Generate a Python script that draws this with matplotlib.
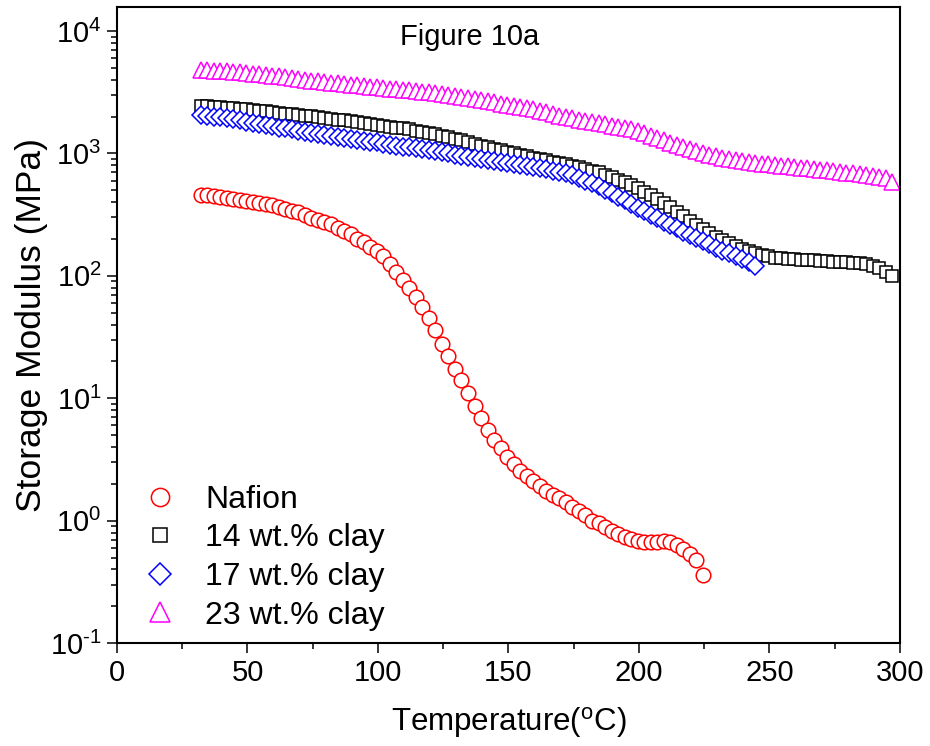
import matplotlib
matplotlib.use("Agg")
import matplotlib.pyplot as plt
from matplotlib.ticker import LogLocator, NullFormatter, MultipleLocator, FuncFormatter
import numpy as np

plt.rcParams['font.family'] = ['Liberation Sans', 'DejaVu Sans']
plt.rcParams['mathtext.fontset'] = 'custom'
plt.rcParams['mathtext.rm'] = 'Liberation Sans'
plt.rcParams['mathtext.it'] = 'Liberation Sans:italic'
plt.rcParams['mathtext.default'] = 'regular'
plt.rcParams['axes.unicode_minus'] = False

# temperature grid of the DMA scans (start, step in degC)
t_start = 32.0
t_step = 2.5

# storage modulus (MPa), every 2.5 degC
nafion = [460, 455, 449, 442, 435, 428, 418, 409, 403, 397,
          390, 378, 367, 355, 342, 330, 313, 299, 287, 275,
          263, 248, 234, 218, 201, 188, 173, 160, 145, 126,
          108, 92, 80, 67, 56, 45, 36, 28, 22, 17.5,
          14, 11, 8.6, 6.9, 5.5, 4.6, 3.9, 3.3, 2.9, 2.55,
          2.3, 2.1, 1.93, 1.75, 1.62, 1.53, 1.42, 1.30, 1.19, 1.12,
          1.0, 0.95, 0.89, 0.83, 0.785, 0.73, 0.71, 0.68, 0.67, 0.67,
          0.67, 0.68, 0.665, 0.635, 0.585, 0.535, 0.48, 0.36]

clay14 = [2440, 2420, 2400, 2380, 2360, 2340, 2310, 2290, 2260, 2240,
          2210, 2180, 2150, 2120, 2090, 2060, 2040, 2010, 1980, 1950,
          1920, 1890, 1860, 1840, 1810, 1780, 1750, 1720, 1690, 1660,
          1630, 1600, 1570, 1540, 1510, 1480, 1450, 1400, 1360, 1320,
          1280, 1240, 1200, 1160, 1120, 1090, 1060, 1030, 1000, 975,
          950, 925, 900, 878, 856, 835, 815, 795, 775, 750,
          725, 700, 670, 640, 610, 580, 550, 520, 488, 455,
          425, 395, 365, 335, 308, 283, 260, 240, 222, 207,
          195, 184, 175, 167, 160, 154, 148, 144, 141, 139,
          138, 137, 136, 135, 134, 133, 132, 131, 130, 129,
          128, 127, 125, 121, 116, 108, 100]

clay17 = [2060, 2030, 2000, 1970, 1940, 1900, 1860, 1820, 1780, 1740,
          1700, 1670, 1630, 1600, 1570, 1540, 1510, 1480, 1450, 1420,
          1390, 1370, 1340, 1320, 1290, 1270, 1250, 1230, 1200, 1180,
          1160, 1140, 1120, 1100, 1080, 1060, 1040, 1020, 1000, 980,
          960, 940, 920, 900, 885, 865, 850, 830, 815, 800,
          785, 770, 755, 740, 725, 705, 690, 665, 635, 600,
          570, 540, 505, 475, 445, 415, 385, 360, 338, 316,
          296, 278, 260, 244, 230, 216, 203, 192, 181, 170,
          161, 153, 145, 138, 130, 121]

clay23 = [4800, 4780, 4750, 4720, 4680, 4640, 4590, 4540, 4490, 4440,
          4390, 4330, 4270, 4210, 4150, 4080, 4010, 3940, 3890, 3840,
          3790, 3740, 3690, 3640, 3600, 3550, 3510, 3460, 3420, 3390,
          3350, 3310, 3270, 3230, 3190, 3150, 3100, 3050, 3000, 2940,
          2880, 2830, 2770, 2720, 2660, 2610, 2560, 2510, 2460, 2410,
          2350, 2290, 2230, 2170, 2100, 2040, 1990, 1940, 1890, 1850,
          1810, 1770, 1730, 1690, 1650, 1610, 1570, 1520, 1460, 1400,
          1340, 1280, 1220, 1170, 1120, 1080, 1040, 1000, 970, 945,
          920, 900, 880, 865, 850, 838, 826, 815, 805, 795,
          786, 777, 768, 758, 748, 738, 728, 718, 708, 698,
          688, 678, 668, 658, 648, 635, 590]

labels = ['Nafion', '14 wt.% clay', '17 wt.% clay', '23 wt.% clay']


def temps(vals):
    return t_start + t_step * np.arange(len(vals))


def decade_label(v, pos):
    e = int(round(np.log10(v)))
    if e < 0:
        return r'$10^{\text{-}%d}$' % (-e)
    return r'$10^{%d}$' % e


fig = plt.figure(figsize=(9.3, 7.46), dpi=100)
ax = fig.add_axes([0.1258, 0.138, 0.8419, 0.8525])

mew = 1.1
ax.plot(temps(nafion), nafion, 'o', ls='none', ms=10.5, mfc='white', mec='#ff0000', mew=mew, label=labels[0])
ax.plot(temps(clay14), clay14, 's', ls='none', ms=8.2, mfc='white', mec='black', mew=mew, label=labels[1])
ax.plot(temps(clay17), clay17, 'D', ls='none', ms=9.0, mfc='white', mec='#0000ff', mew=mew, label=labels[2])
ax.plot(temps(clay23), clay23, '^', ls='none', ms=11.0, mfc='white', mec='#ff00ff', mew=mew, label=labels[3])

ax.set_yscale('log')
ax.set_xlim(0, 300)
ax.set_ylim(0.1, 10 ** 4.196)

ax.xaxis.set_major_locator(MultipleLocator(50))
ax.xaxis.set_minor_locator(MultipleLocator(25))
ax.yaxis.set_major_locator(LogLocator(base=10, numticks=10))
ax.yaxis.set_major_formatter(FuncFormatter(decade_label))
ax.yaxis.set_minor_locator(LogLocator(base=10, subs=np.arange(2, 10), numticks=20))
ax.yaxis.set_minor_formatter(NullFormatter())

ax.tick_params(which='both', direction='out', top=False, right=False, width=1.1, labelsize=21)
ax.tick_params(which='major', length=7.2, pad=4)
ax.tick_params(which='minor', length=4.3)
for sp in ax.spines.values():
    sp.set_linewidth(1.5)

ax.set_xlabel('Temperature($^{o}$C)', fontsize=22.5, labelpad=13)
ax.set_ylabel('Storage Modulus (MPa)', fontsize=25.5, labelpad=1)

ax.text(0.45, 0.975, 'Figure 10a', transform=ax.transAxes, fontsize=21, ha='center', va='top')

ax.legend(loc='upper left', bbox_to_anchor=(0.035, 0.249), frameon=False, fontsize=23,
          numpoints=1, markerscale=1.25, handlelength=1.0, handletextpad=0.9,
          labelspacing=0.27, borderpad=0, borderaxespad=0)

fig.savefig('out.png', dpi=100)
